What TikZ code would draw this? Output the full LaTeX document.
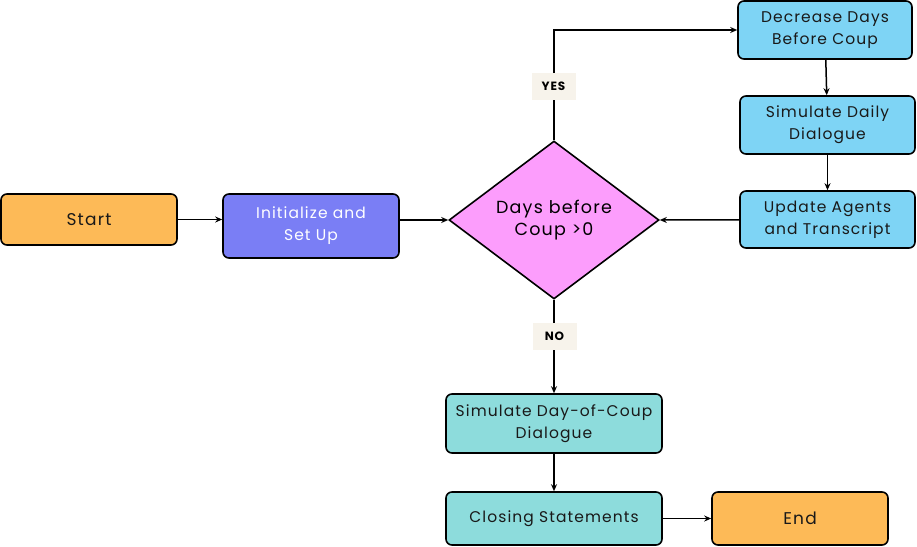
\documentclass[tikz,border=0pt]{standalone}
\usepackage{fontspec}
\setmainfont{Poppins}[LetterSpace=7]
\usepackage{xcolor}
\definecolor{startorange}{RGB}{253, 186, 87}
\definecolor{initblue}{RGB}{122, 126, 245}
\definecolor{decisionpink}{RGB}{252, 157, 252}
\definecolor{loopblue}{RGB}{126, 212, 245}
\definecolor{endteal}{RGB}{141, 220, 220}
\definecolor{tagcream}{RGB}{247, 243, 235}
\usepackage{tikz}
\usetikzlibrary{arrows.meta,shapes.geometric,positioning}

\begin{document}
\begin{tikzpicture}[x=1pt, y=-1pt,
    box/.style={draw=black, line width=1.6pt, rounded corners=6pt, align=center,
        minimum width=176pt, font=\fontsize{15.5}{22}\selectfont, text=black!90},
    terminal/.style={box, fill=startorange, font=\fontsize{17}{22}\selectfont},
    decision/.style={diamond, draw=black, line width=1.6pt, fill=decisionpink, aspect=1.33,
        inner sep=0pt, minimum width=210pt, minimum height=158pt, align=center,
        font=\fontsize{17.5}{22}\selectfont},
    tag/.style={fill=tagcream, inner sep=0pt, minimum width=44pt, minimum height=27pt,
        font=\fontsize{12}{12}\selectfont\bfseries},
    flow/.style={-{Stealth[length=7pt, width=6pt]}, line width=1.5pt}]
    % Frame
    \useasboundingbox (0, 0) rectangle (917, 546);

    % Main line
    \node[terminal, minimum height=51pt] (start) at (89, 219.5) {Start};
    \node[box, fill=initblue, minimum height=64pt, text=white] (init) at (311, 226) {Initialize and\\Set Up};
    \node[decision] (check) at (554, 220) {Days before\\Coup >0};

    % Loop on the right
    \node[box, fill=loopblue, minimum width=174pt, minimum height=58pt] (decrease) at (825, 30) {Decrease Days\\Before Coup};
    \node[box, fill=loopblue, minimum width=175pt, minimum height=58pt] (daily) at (827.5, 125) {Simulate Daily\\Dialogue};
    \node[box, fill=loopblue, minimum width=175pt, minimum height=57pt] (update) at (827.5, 219.5) {Update Agents\\and Transcript};

    % Exit branch
    \node[box, fill=endteal, minimum width=216pt, minimum height=59pt] (coupday) at (554, 423.5) {Simulate Day-of-Coup\\Dialogue};
    \node[box, fill=endteal, minimum width=216pt, minimum height=53pt] (closing) at (554, 518.5) {Closing Statements};
    \node[terminal, minimum height=53pt] (finish) at (800, 518.5) {End};

    % Connectors
    \draw[flow] (start.east) -- (start.east -| init.west);
    \draw[flow] (check.west -| init.east) -- (check.west);
    \draw[flow] (check.north) |- (decrease.west);
    \draw[flow] (decrease) -- (daily);
    \draw[flow] (daily) -- (update);
    \draw[flow] (update) -- (check.east);
    \draw[flow] (check.south) -- (coupday.north);
    \draw[flow] (coupday) -- (closing);
    \draw[flow] (closing) -- (finish);

    % Branch labels
    \node[tag] (yes) at (553.5, 86) {YES};
    \node[tag] (no) at (554.5, 336) {NO};
\end{tikzpicture}
\end{document}
